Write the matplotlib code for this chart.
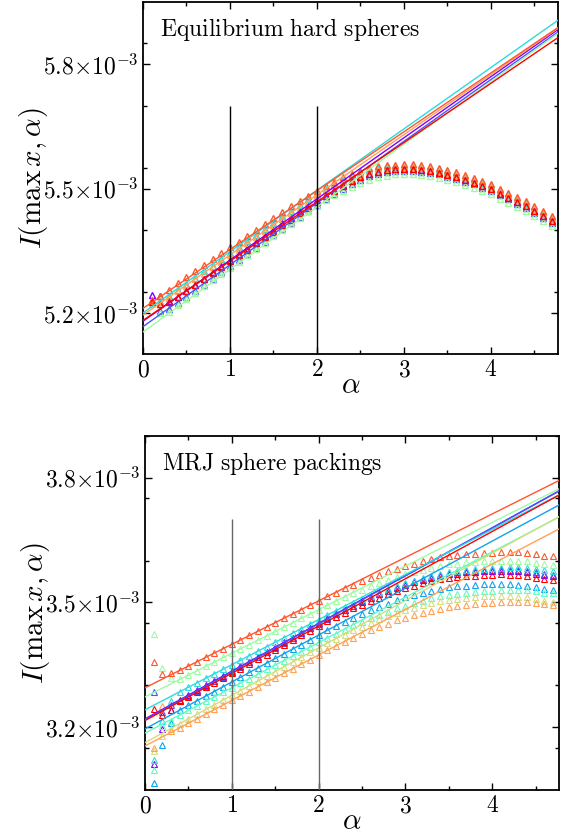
import numpy as np
import matplotlib
matplotlib.use('Agg')
import matplotlib.pyplot as plt
from matplotlib.ticker import FixedLocator, FixedFormatter, MultipleLocator

plt.rcParams['mathtext.fontset'] = 'cm'
plt.rcParams['font.family'] = ['DejaVu Serif']

# sampled alpha values (same grid for every curve)
alpha = np.linspace(0.1, 4.7, 47)

# ---- equilibrium hard spheres, I(max x, alpha) in units of 1e-3 ----
eq_cmap_pos = [0.0, 0.11, 0.33, 0.56, 0.78, 0.89, 1.0]
eq_values = [
    [5.244, 5.240, 5.228, 5.239, 5.254, 5.268, 5.283, 5.298, 5.313,
     5.327, 5.342, 5.357, 5.372, 5.386, 5.401, 5.416, 5.430, 5.445, 5.459,
     5.472, 5.485, 5.497, 5.508, 5.518, 5.528, 5.536, 5.541, 5.545, 5.547,
     5.548, 5.548, 5.546, 5.543, 5.539, 5.534, 5.528, 5.522, 5.515, 5.507,
     5.499, 5.489, 5.479, 5.468, 5.458, 5.446, 5.434, 5.422],
    [5.226, 5.205, 5.209, 5.223, 5.238, 5.253, 5.268, 5.283, 5.298,
     5.313, 5.328, 5.343, 5.357, 5.372, 5.387, 5.402, 5.417, 5.432, 5.447,
     5.461, 5.475, 5.488, 5.500, 5.511, 5.521, 5.530, 5.536, 5.540, 5.542,
     5.543, 5.543, 5.541, 5.538, 5.534, 5.529, 5.523, 5.517, 5.510, 5.502,
     5.494, 5.484, 5.474, 5.463, 5.453, 5.441, 5.429, 5.417],
    [5.228, 5.226, 5.240, 5.255, 5.270, 5.285, 5.300, 5.314, 5.329,
     5.344, 5.359, 5.374, 5.388, 5.403, 5.418, 5.433, 5.447, 5.461, 5.475,
     5.488, 5.500, 5.511, 5.521, 5.530, 5.538, 5.544, 5.549, 5.552, 5.554,
     5.555, 5.555, 5.553, 5.550, 5.546, 5.541, 5.535, 5.529, 5.522, 5.514,
     5.506, 5.496, 5.486, 5.475, 5.465, 5.453, 5.441, 5.429],
    [5.222, 5.200, 5.203, 5.218, 5.233, 5.249, 5.264, 5.279, 5.294,
     5.309, 5.324, 5.339, 5.354, 5.369, 5.385, 5.400, 5.415, 5.430, 5.445,
     5.459, 5.472, 5.484, 5.495, 5.504, 5.513, 5.521, 5.527, 5.531, 5.534,
     5.535, 5.535, 5.533, 5.530, 5.526, 5.521, 5.515, 5.509, 5.502, 5.494,
     5.486, 5.476, 5.466, 5.455, 5.445, 5.433, 5.421, 5.409],
    [5.228, 5.228, 5.237, 5.252, 5.266, 5.281, 5.295, 5.310, 5.324,
     5.339, 5.353, 5.368, 5.382, 5.397, 5.411, 5.426, 5.440, 5.454, 5.468,
     5.481, 5.494, 5.505, 5.515, 5.524, 5.532, 5.539, 5.544, 5.548, 5.550,
     5.552, 5.552, 5.550, 5.547, 5.543, 5.538, 5.532, 5.526, 5.519, 5.511,
     5.503, 5.493, 5.483, 5.472, 5.462, 5.450, 5.438, 5.426],
    [5.230, 5.240, 5.256, 5.273, 5.287, 5.301, 5.315, 5.330, 5.344,
     5.358, 5.372, 5.386, 5.401, 5.415, 5.429, 5.443, 5.457, 5.470, 5.482,
     5.494, 5.506, 5.517, 5.527, 5.536, 5.543, 5.550, 5.554, 5.557, 5.558,
     5.559, 5.559, 5.557, 5.554, 5.550, 5.545, 5.539, 5.533, 5.526, 5.518,
     5.510, 5.500, 5.490, 5.479, 5.469, 5.457, 5.445, 5.433],
    [5.226, 5.222, 5.226, 5.239, 5.253, 5.267, 5.282, 5.296, 5.310,
     5.325, 5.339, 5.353, 5.368, 5.382, 5.396, 5.411, 5.425, 5.440, 5.454,
     5.468, 5.482, 5.495, 5.507, 5.518, 5.527, 5.535, 5.540, 5.544, 5.546,
     5.547, 5.547, 5.545, 5.542, 5.538, 5.533, 5.527, 5.521, 5.514, 5.506,
     5.498, 5.488, 5.478, 5.467, 5.457, 5.445, 5.433, 5.421],
]
# linear fits: intercept and slope
eq_intercept = [5.180, 5.167, 5.200, 5.154, 5.195, 5.211, 5.182]
eq_slope = [0.1475, 0.149, 0.148, 0.151, 0.145, 0.142, 0.143]

# ---- MRJ sphere packings ----
mrj_cmap_pos = list(np.linspace(0, 1, 10))
mrj_values = [
    [3.111, 3.195, 3.240, 3.265, 3.277, 3.288, 3.300, 3.311, 3.323,
     3.334, 3.346, 3.357, 3.369, 3.380, 3.392, 3.403, 3.415, 3.426, 3.438,
     3.449, 3.461, 3.471, 3.482, 3.492, 3.501, 3.510, 3.519, 3.526, 3.535,
     3.542, 3.548, 3.553, 3.559, 3.563, 3.567, 3.569, 3.572, 3.573, 3.575,
     3.575, 3.576, 3.575, 3.575, 3.573, 3.569, 3.565, 3.563],
    [3.284, 3.236, 3.252, 3.263, 3.275, 3.286, 3.298, 3.310, 3.321,
     3.333, 3.344, 3.356, 3.367, 3.379, 3.390, 3.402, 3.414, 3.425, 3.437,
     3.448, 3.460, 3.471, 3.482, 3.492, 3.502, 3.511, 3.520, 3.528, 3.537,
     3.544, 3.550, 3.556, 3.561, 3.566, 3.570, 3.572, 3.575, 3.576, 3.578,
     3.578, 3.579, 3.578, 3.578, 3.576, 3.572, 3.568, 3.566],
    [3.066, 3.157, 3.210, 3.240, 3.252, 3.263, 3.274, 3.285, 3.297,
     3.308, 3.319, 3.331, 3.342, 3.353, 3.365, 3.376, 3.387, 3.398, 3.410,
     3.421, 3.432, 3.443, 3.453, 3.463, 3.472, 3.481, 3.489, 3.496, 3.505,
     3.512, 3.517, 3.523, 3.528, 3.532, 3.536, 3.538, 3.540, 3.541, 3.543,
     3.543, 3.543, 3.543, 3.542, 3.540, 3.536, 3.532, 3.529],
    [3.120, 3.215, 3.262, 3.284, 3.295, 3.306, 3.317, 3.328, 3.339,
     3.350, 3.360, 3.371, 3.382, 3.393, 3.404, 3.415, 3.425, 3.436, 3.447,
     3.458, 3.469, 3.479, 3.489, 3.498, 3.507, 3.516, 3.524, 3.532, 3.540,
     3.547, 3.552, 3.558, 3.563, 3.568, 3.572, 3.575, 3.577, 3.579, 3.581,
     3.582, 3.583, 3.584, 3.584, 3.582, 3.579, 3.577, 3.575],
    [3.095, 3.201, 3.215, 3.229, 3.240, 3.250, 3.261, 3.272, 3.283,
     3.294, 3.305, 3.316, 3.327, 3.338, 3.349, 3.359, 3.370, 3.381, 3.392,
     3.403, 3.414, 3.424, 3.434, 3.444, 3.453, 3.461, 3.469, 3.477, 3.485,
     3.492, 3.498, 3.504, 3.509, 3.514, 3.518, 3.520, 3.523, 3.525, 3.527,
     3.528, 3.529, 3.530, 3.530, 3.529, 3.526, 3.523, 3.521],
    [3.424, 3.341, 3.317, 3.314, 3.325, 3.335, 3.346, 3.356, 3.367,
     3.377, 3.388, 3.398, 3.409, 3.419, 3.430, 3.440, 3.451, 3.461, 3.472,
     3.482, 3.493, 3.502, 3.512, 3.521, 3.530, 3.538, 3.546, 3.553, 3.561,
     3.567, 3.573, 3.578, 3.583, 3.587, 3.591, 3.593, 3.596, 3.597, 3.599,
     3.599, 3.600, 3.600, 3.600, 3.598, 3.595, 3.592, 3.590],
    [3.142, 3.177, 3.195, 3.208, 3.219, 3.230, 3.242, 3.253, 3.265,
     3.276, 3.287, 3.299, 3.310, 3.322, 3.333, 3.344, 3.356, 3.367, 3.379,
     3.390, 3.401, 3.412, 3.422, 3.433, 3.441, 3.450, 3.459, 3.466, 3.475,
     3.482, 3.487, 3.493, 3.498, 3.503, 3.506, 3.508, 3.511, 3.512, 3.514,
     3.514, 3.514, 3.514, 3.513, 3.512, 3.507, 3.503, 3.501],
    [3.150, 3.250, 3.190, 3.198, 3.209, 3.220, 3.231, 3.242, 3.253,
     3.264, 3.274, 3.285, 3.296, 3.307, 3.318, 3.329, 3.340, 3.351, 3.362,
     3.373, 3.384, 3.394, 3.404, 3.414, 3.423, 3.432, 3.440, 3.448, 3.456,
     3.463, 3.468, 3.474, 3.479, 3.484, 3.488, 3.491, 3.494, 3.496, 3.498,
     3.499, 3.500, 3.501, 3.501, 3.500, 3.497, 3.495, 3.493],
    [3.357, 3.327, 3.329, 3.336, 3.346, 3.357, 3.367, 3.378, 3.388,
     3.399, 3.409, 3.420, 3.430, 3.440, 3.451, 3.461, 3.472, 3.482, 3.493,
     3.503, 3.514, 3.523, 3.533, 3.542, 3.551, 3.559, 3.566, 3.574, 3.581,
     3.588, 3.593, 3.599, 3.603, 3.608, 3.611, 3.614, 3.616, 3.617, 3.619,
     3.619, 3.620, 3.620, 3.620, 3.618, 3.615, 3.612, 3.610],
    [3.243, 3.229, 3.240, 3.261, 3.272, 3.283, 3.295, 3.306, 3.317,
     3.329, 3.340, 3.352, 3.363, 3.374, 3.386, 3.397, 3.408, 3.420, 3.431,
     3.443, 3.454, 3.464, 3.475, 3.485, 3.494, 3.503, 3.511, 3.519, 3.527,
     3.534, 3.540, 3.545, 3.551, 3.555, 3.558, 3.561, 3.563, 3.564, 3.566,
     3.566, 3.567, 3.566, 3.565, 3.564, 3.559, 3.555, 3.553],
]
mrj_intercept = [3.219, 3.217, 3.195, 3.241, 3.185, 3.272, 3.162, 3.154, 3.294, 3.215]
mrj_slope = [0.1150, 0.1155, 0.1130, 0.1085, 0.1090, 0.1050, 0.1140, 0.1095, 0.1046, 0.1138]

# fit window markers
window_alpha = [1, 2]

eq_yticks = [5.2, 5.5, 5.8]
eq_yticklabels = [r'$5.2{\times}10^{-3}$', r'$5.5{\times}10^{-3}$', r'$5.8{\times}10^{-3}$']
mrj_yticks = [3.2, 3.5, 3.8]
mrj_yticklabels = [r'$3.2{\times}10^{-3}$', r'$3.5{\times}10^{-3}$', r'$3.8{\times}10^{-3}$']


def draw_panel(ax, values, intercepts, slopes, cmap_pos, ylim, window_top,
               window_color, yticks, yticklabels, title, msize, mew):
    """Scatter each curve with open triangles and overlay its linear fit"""
    ax.set_xlim(0, 4.77)
    ax.set_ylim(*ylim)
    cmap = plt.get_cmap('rainbow')
    for vals, b, m, c in zip(values, intercepts, slopes, cmap_pos):
        color = cmap(c)
        ax.plot(alpha, vals, '^', ms=msize, mfc='none', mec=color, mew=mew, zorder=2)
        ax.axline((0, b), slope=m, color=color, lw=1.0, zorder=3)
    ax.vlines(window_alpha, ylim[0], window_top, colors=window_color, lw=1.0, zorder=4)

    ax.xaxis.set_major_locator(MultipleLocator(1))
    ax.xaxis.set_minor_locator(MultipleLocator(0.5))
    ax.yaxis.set_major_locator(FixedLocator(yticks))
    ax.yaxis.set_major_formatter(FixedFormatter(yticklabels))
    ax.yaxis.set_minor_locator(MultipleLocator(0.15))
    ax.set_xticks([0, 1, 2, 3, 4])
    ax.set_xticklabels([r'$0$', r'$1$', r'$2$', r'$3$', r'$4$'])
    ax.tick_params(which='both', direction='in', top=True, right=True, labelsize=17, width=1.0)
    ax.tick_params(which='major', length=5, pad=3)
    ax.tick_params(which='minor', length=3)
    for spine in ax.spines.values():
        spine.set_linewidth(1.3)

    ax.set_xlabel(r'$\alpha$', fontsize=21, labelpad=-7)
    ax.set_ylabel(r'$I(\max\,x, \alpha)$', fontsize=21, labelpad=-5)
    ax.text(0.042, 0.923, title, transform=ax.transAxes, fontsize=17, va='center', ha='left')


fig = plt.figure(figsize=(5.63, 8.38), dpi=100)
ax_top = fig.add_axes([0.254, 0.5776, 0.737, 0.4200])
ax_bot = fig.add_axes([0.2575, 0.0573, 0.7355, 0.4224])

draw_panel(ax_top, eq_values, eq_intercept, eq_slope, eq_cmap_pos,
           (5.101, 5.95), 5.70, 'black', eq_yticks, eq_yticklabels,
           r'$\mathrm{Equilibrium\ hard\ spheres}$', 4.8, 1.0)
draw_panel(ax_bot, mrj_values, mrj_intercept, mrj_slope, mrj_cmap_pos,
           (3.048, 3.90), 3.70, '0.4', mrj_yticks, mrj_yticklabels,
           r'$\mathrm{MRJ\ sphere\ packings}$', 4.6, 0.8)

fig.savefig('out.png', dpi=100)
